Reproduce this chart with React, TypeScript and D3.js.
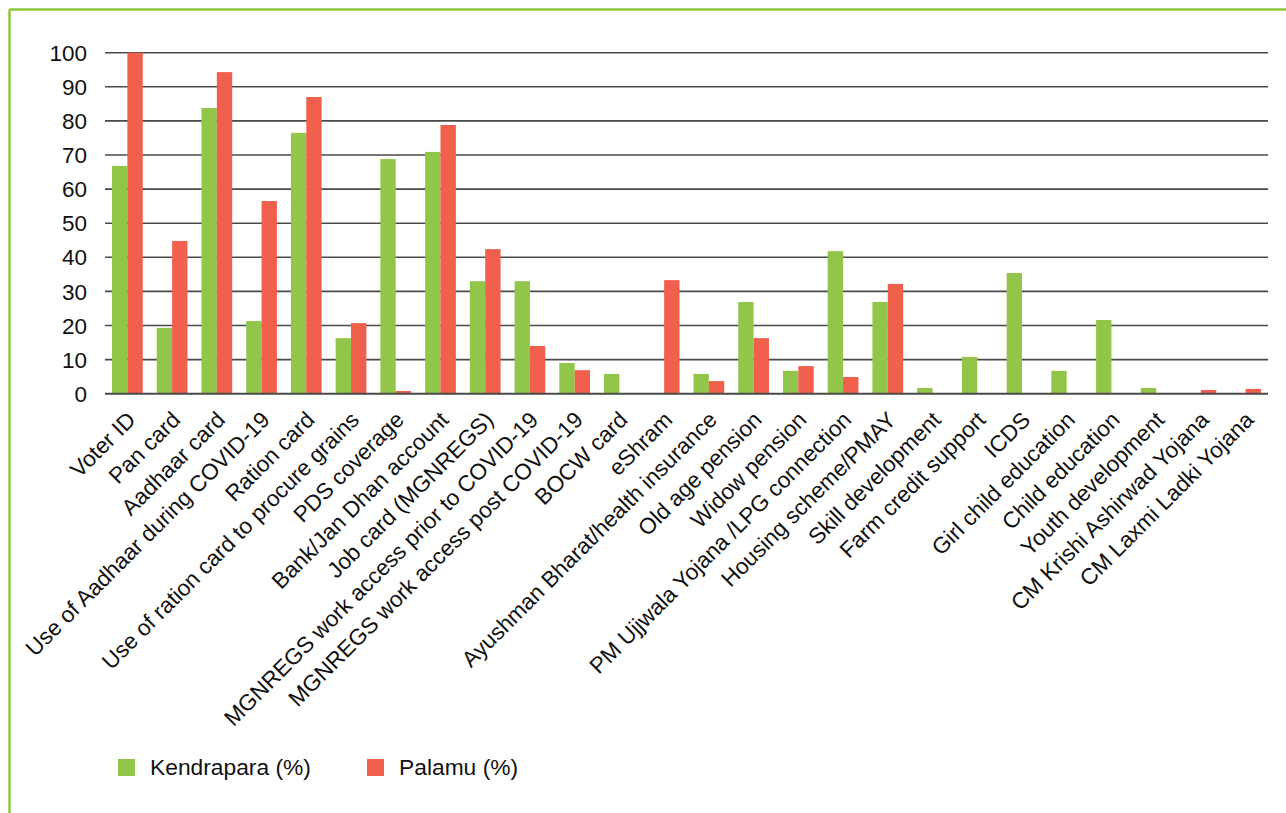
import React from "react";
import * as d3 from "d3";

const categories: string[] = [
  "Voter ID",
  "Pan card",
  "Aadhaar card",
  "Use of Aadhaar during COVID-19",
  "Ration card",
  "Use of ration card to procure grains",
  "PDS coverage",
  "Bank/Jan Dhan account",
  "Job card (MGNREGS)",
  "MGNREGS work access prior to COVID-19",
  "MGNREGS work access post COVID-19",
  "BOCW card",
  "eShram",
  "Ayushman Bharat/health insurance",
  "Old age pension",
  "Widow pension",
  "PM Ujjwala Yojana /LPG connection",
  "Housing scheme/PMAY",
  "Skill development",
  "Farm credit support",
  "ICDS",
  "Girl child education",
  "Child education",
  "Youth development",
  "CM Krishi Ashirwad Yojana",
  "CM Laxmi Ladki Yojana",
];

const kendrapara: number[] = [
  66.8, 19.3, 83.8, 21.3, 76.5, 16.3, 68.8, 70.9, 33.0, 33.0, 9.0, 5.8, 0,
  5.8, 26.9, 6.7, 41.8, 26.9, 1.7, 10.8, 35.4, 6.7, 21.6, 1.7, 0, 0,
];

const palamu: number[] = [
  100, 44.8, 94.3, 56.5, 87.0, 20.7, 0.8, 78.8, 42.4, 14.0, 6.9, 0, 33.3,
  3.7, 16.3, 8.1, 4.9, 32.2, 0, 0, 0, 0, 0, 0, 1.1, 1.4,
];

const seriesNames: string[] = ["Kendrapara (%)", "Palamu (%)"];
const yTicks: number[] = [0, 10, 20, 30, 40, 50, 60, 70, 80, 90, 100];

const GREEN = "#92c64a";
const RED = "#f0604c";
const BORDER = "#8dc63f";
const FONT = "'Liberation Sans', Arial, Helvetica, sans-serif";

export default function App() {
  const W = 1286;
  const H = 813;
  const left = 105;
  const right = 1268;
  const y0 = 393.7;
  const y100 = 52.7;

  const x = d3
    .scaleBand<string>()
    .domain(categories)
    .range([left, right])
    .paddingInner(0.313)
    .paddingOuter(0.1565);
  const xs = d3
    .scaleBand<string>()
    .domain(seriesNames)
    .range([0, x.bandwidth()]);
  const y = d3.scaleLinear().domain([0, 100]).range([y0, y100]);

  const series = [
    { name: seriesNames[0], values: kendrapara, color: GREEN },
    { name: seriesNames[1], values: palamu, color: RED },
  ];

  return (
    <svg
      width={W}
      height={H}
      style={{ position: "absolute", left: 0, top: 0, background: "#fff" }}
      fontFamily={FONT}
    >
      <rect x={0} y={0} width={W} height={H} fill="#fff" />
      {/* border */}
      <line x1={9.5} y1={9.5} x2={W} y2={9.5} stroke={BORDER} strokeWidth={2.5} />
      <line x1={9.5} y1={9.5} x2={9.5} y2={H} stroke={BORDER} strokeWidth={2.5} />

      {/* gridlines */}
      {yTicks.map((t) => (
        <line
          key={"g" + t}
          x1={left}
          x2={right}
          y1={y(t)}
          y2={y(t)}
          stroke="#4a4a4a"
          strokeWidth={1.6}
        />
      ))}
      {/* y labels */}
      {yTicks.map((t) => (
        <text
          key={"t" + t}
          x={87}
          y={y(t)}
          dy="0.36em"
          textAnchor="end"
          fontSize={22.5}
          fill="#111"
        >
          {t}
        </text>
      ))}

      {/* bars */}
      {series.map((s) =>
        categories.map((c, i) => {
          const v = s.values[i];
          if (!v) return null;
          return (
            <rect
              key={s.name + c}
              x={(x(c) as number) + (xs(s.name) as number)}
              y={y(v)}
              width={xs.bandwidth()}
              height={y(0) - y(v)}
              fill={s.color}
            />
          );
        })
      )}
      {/* axis line */}
      <line x1={left} x2={right} y1={y(0)} y2={y(0)} stroke="#4a4a4a" strokeWidth={1.8} />

      {/* category labels */}
      {categories.map((c) => {
        const cx = (x(c) as number) + x.bandwidth() / 2;
        return (
          <text
            key={"l" + c}
            transform={`translate(${cx + 4},${y0 + 22}) rotate(-45)`}
            textAnchor="end"
            dy="0.35em"
            fontSize={22.5}
            fill="#111"
          >
            {c}
          </text>
        );
      })}

      {/* legend */}
      {series.map((s, i) => {
        const lx = i === 0 ? 118 : 367;
        return (
          <g key={"leg" + s.name}>
            <rect x={lx} y={759} width={17} height={17} fill={s.color} />
            <text x={lx + 32} y={767.5} dy="0.35em" fontSize={22.8} fill="#111">
              {s.name}
            </text>
          </g>
        );
      })}
    </svg>
  );
}
